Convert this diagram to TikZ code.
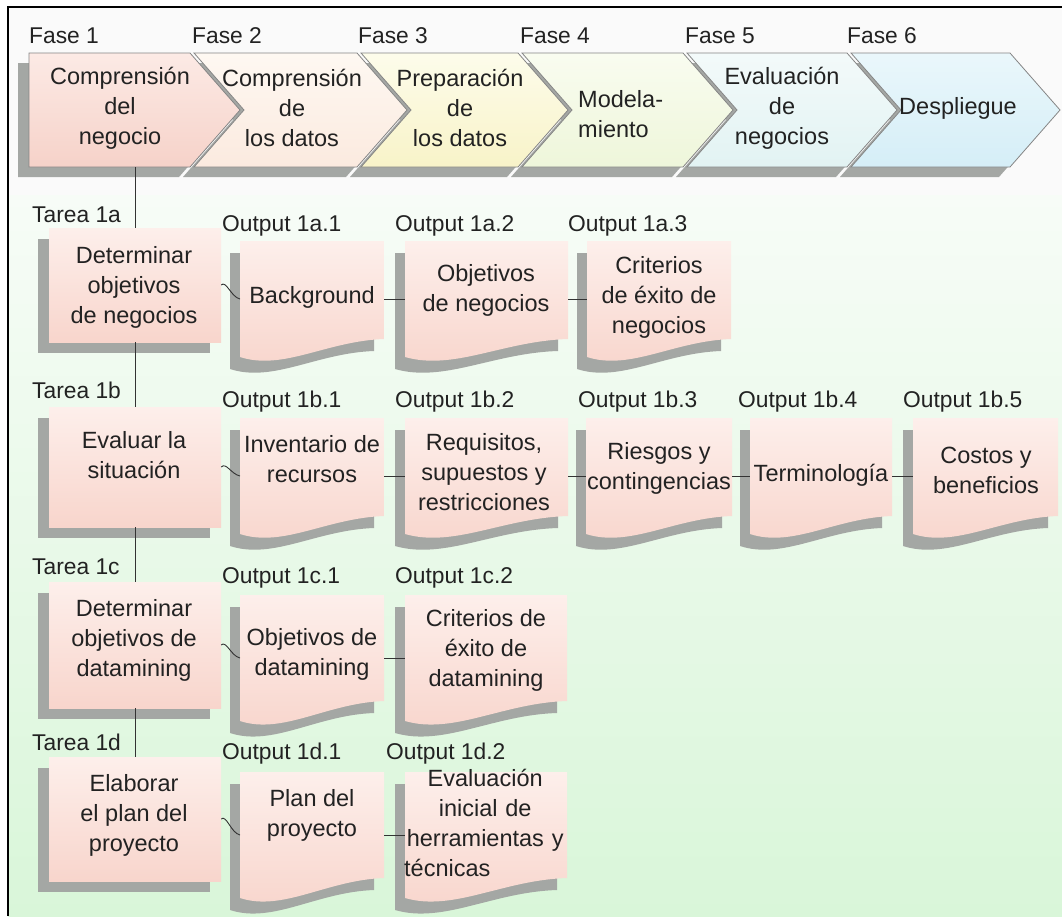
\documentclass[tikz,border=0pt]{standalone}
\usepackage{fontspec}
\setmainfont{Liberation Sans}
\usetikzlibrary{shadows}

\definecolor{ink}{HTML}{222222}
\definecolor{wirecol}{HTML}{333333}
\definecolor{shadowgray}{HTML}{A4A7A4}
\definecolor{edgegray}{HTML}{858585}
\definecolor{paper}{HTML}{FAFAFA}
\definecolor{greentop}{HTML}{F7FCF7}
\definecolor{greenbot}{HTML}{D9F6D9}
\definecolor{pinktop}{HTML}{FDEFEB}
\definecolor{pinkbot}{HTML}{F8D5CC}
% phase colours (top / bottom)
\definecolor{ca}{HTML}{FCEAE5}\definecolor{cA}{HTML}{F6D2C9}
\definecolor{cb}{HTML}{FEF8F2}\definecolor{cB}{HTML}{FBEADF}
\definecolor{cc}{HTML}{FDFCEB}\definecolor{cC}{HTML}{F8F3C8}
\definecolor{cd}{HTML}{F9FCF0}\definecolor{cD}{HTML}{EEF6DA}
\definecolor{ce}{HTML}{F3FAFA}\definecolor{cE}{HTML}{E2F3F3}
\definecolor{cf}{HTML}{EAF7FB}\definecolor{cF}{HTML}{D5EEF7}

\tikzset{
  lbl/.style={font=\fontsize{22.8}{28}\selectfont, text=ink, inner sep=0pt},
  bodyfont/.style={font=\fontsize{23.5}{30}\selectfont, text=ink, inner sep=0pt},
  body/.style={bodyfont, align=center},
  chev/.style={draw=edgegray, line width=0.8pt,
    general shadow={fill=shadowgray, shadow xshift=-11pt, shadow yshift=-10pt}},
  taskbox/.style={rectangle, inner sep=0pt, minimum width=172pt,
    top color=pinktop, bottom color=pinkbot,
    general shadow={fill=shadowgray, shadow xshift=-11pt, shadow yshift=-11pt}},
  docfill/.style={top color=pinktop, bottom color=pinkbot,
    general shadow={fill=shadowgray, shadow xshift=-10pt, shadow yshift=-12pt}},
  wire/.style={draw=wirecol, line width=0.9pt},
}

% output document: name, left x, top y, width, left height, right height
\newcommand{\outdoc}[6]{%
  \shade[docfill] (#2,#3) -- (#2+#4,#3) -- (#2+#4,#3+#6)
    .. controls +(-0.4*#4,2) and +(0.3*#4,14) .. (#2,#3+#5) -- cycle;
  \coordinate (#1-L) at (#2,#3+0.5*#5);
  \coordinate (#1-R) at (#2+#4,#3+0.5*#5);
}

\begin{document}
\begin{tikzpicture}[x=1pt,y=-1pt]
\useasboundingbox (0,0) rectangle (1062,916);

% page background and frame
\fill[white] (0,0) rectangle (1062,916);
\fill[paper] (8,7) rectangle (1062,195);
\shade[top color=greentop, bottom color=greenbot] (8,195) rectangle (1062,916);
\draw[black, line width=1.1pt] (8,916) -- (8,7) -- (1062,7);

% phase chevrons, drawn right to left so each tip lies over the next shadow
\path[chev, top color=cf, bottom color=cF] (851,53) -- (1010,53) -- (1060,110) -- (1010,167) -- (851,167) -- (901,110) -- cycle;
\path[chev, top color=ce, bottom color=cE] (687,53) -- (847,53) -- (897,110) -- (847,167) -- (687,167) -- (737,110) -- cycle;
\path[chev, top color=cd, bottom color=cD] (522,53) -- (683,53) -- (733,110) -- (683,167) -- (522,167) -- (572,110) -- cycle;
\path[chev, top color=cc, bottom color=cC] (361,53) -- (518,53) -- (568,110) -- (518,167) -- (361,167) -- (411,110) -- cycle;
\path[chev, top color=cb, bottom color=cB] (194,53) -- (357,53) -- (407,110) -- (357,167) -- (194,167) -- (244,110) -- cycle;
\path[chev, top color=ca, bottom color=cA] (29,53) -- (190,53) -- (240,110) -- (190,167) -- (29,167) -- cycle;

% phase labels
\node[lbl, anchor=base west] (f1) at (29,43) {Fase 1};
\node[lbl, anchor=base west] (f2) at (192,43) {Fase 2};
\node[lbl, anchor=base west] (f3) at (358,43) {Fase 3};
\node[lbl, anchor=base west] (f4) at (520,43) {Fase 4};
\node[lbl, anchor=base west] (f5) at (685,43) {Fase 5};
\node[lbl, anchor=base west] (f6) at (847,43) {Fase 6};

% phase names
\node[body] (ph1) at (120,108) {Comprensión\\del\\negocio};
\node[body] (ph2) at (292,108) {Comprensión\\de\\los datos};
\node[body] (ph3) at (460,108) {Preparación\\de\\los datos};
\node[bodyfont, align=left, anchor=west] (ph4) at (578,114) {Modela-\\miento};
\node[body] (ph5) at (782,108) {Evaluación\\de\\negocios};
\node[body] (ph6) at (958,108) {Despliegue};
\coordinate (spine) at (135,167);

% tasks
\node[lbl, anchor=base west] (ta) at (32,222) {Tarea 1a};
\node[lbl, anchor=base west] (tb) at (32,398) {Tarea 1b};
\node[lbl, anchor=base west] (tc) at (32,574) {Tarea 1c};
\node[lbl, anchor=base west] (td) at (32,750) {Tarea 1d};

\node[taskbox, minimum height=114pt] (t1a) at (135,285) {};
\node[taskbox, minimum height=120pt] (t1b) at (135,467) {};
\node[taskbox, minimum height=126pt] (t1c) at (135,645) {};
\node[taskbox, minimum height=124pt] (t1d) at (135,819) {};

\node[body] (t1a-text) at (134,287) {Determinar\\objetivos\\de negocios};
\node[body] (t1b-text) at (134,455) {Evaluar la\\situación};
\node[body] (t1c-text) at (134,640) {Determinar\\objetivos de\\datamining};
\node[body] (t1d-text) at (134,815) {Elaborar\\el plan del\\proyecto};

% outputs, row a
\node[lbl, anchor=base west] (la1) at (222,231) {Output 1a.1};
\node[lbl, anchor=base west] (la2) at (395,231) {Output 1a.2};
\node[lbl, anchor=base west] (la3) at (568,231) {Output 1a.3};
\outdoc{o1a1}{240}{241}{144}{116}{98}
\outdoc{o1a2}{405}{241}{163}{116}{98}
\outdoc{o1a3}{587}{241}{144}{116}{98}
\node[body] (o1a1-text) at (312,297) {Background};
\node[body] (o1a2-text) at (486,290) {Objetivos\\de negocios};
\node[body] (o1a3-text) at (659,297) {Criterios\\de éxito de\\negocios};

% outputs, row b
\node[lbl, anchor=base west] (lb1) at (222,407) {Output 1b.1};
\node[lbl, anchor=base west] (lb2) at (395,407) {Output 1b.2};
\node[lbl, anchor=base west] (lb3) at (578,407) {Output 1b.3};
\node[lbl, anchor=base west] (lb4) at (738,407) {Output 1b.4};
\node[lbl, anchor=base west] (lb5) at (903,407) {Output 1b.5};
\outdoc{o1b1}{240}{418}{144}{116}{98}
\outdoc{o1b2}{405}{418}{163}{116}{98}
\outdoc{o1b3}{586}{418}{146}{116}{98}
\outdoc{o1b4}{750}{418}{142}{116}{98}
\outdoc{o1b5}{913}{418}{145}{116}{98}
\node[body] (o1b1-text) at (312,459) {Inventario de\\recursos};
\node[body] (o1b2-text) at (484,472) {Requisitos,\\supuestos y\\restricciones};
\node[body] (o1b3-text) at (659,468) {Riesgos y\\contingencias};
\node[body] (o1b4-text) at (821,475) {Terminología};
\node[body] (o1b5-text) at (986,470) {Costos y\\beneficios};

% outputs, row c
\node[lbl, anchor=base west] (lc1) at (222,583) {Output 1c.1};
\node[lbl, anchor=base west] (lc2) at (395,583) {Output 1c.2};
\outdoc{o1c1}{240}{595}{144}{126}{106}
\outdoc{o1c2}{405}{595}{162}{126}{106}
\node[body] (o1c1-text) at (312,654) {Objetivos de\\datamining};
\node[body] (o1c2-text) at (486,650) {Criterios de\\éxito de\\datamining};

% outputs, row d
\node[lbl, anchor=base west] (ld1) at (222,759) {Output 1d.1};
\node[lbl, anchor=base west] (ld2) at (386,759) {Output 1d.2};
\outdoc{o1d1}{240}{772}{144}{126}{106}
\outdoc{o1d2}{405}{772}{162}{126}{106}
\node[body] (o1d1-text) at (312,815) {Plan del\\proyecto};
\node[bodyfont, text width=162pt, anchor=west] (o1d2-text) at (404,823)
  {{\centering Evaluación\\inicial de\\herramientas y\par}\noindent técnicas};

% task spine
\draw[wire] (spine) -- (t1a.north);
\draw[wire] (t1a.south) -- (t1b.north);
\draw[wire] (t1b.south) -- (t1c.north);
\draw[wire] (t1c.south) -- (t1d.north);

% task to first output
\draw[wire] (t1a.east) .. controls +(5,-5) and +(-9,-2) .. (o1a1-L);
\draw[wire] (t1b.east) .. controls +(5,-5) and +(-9,-2) .. (o1b1-L);
\draw[wire] (t1c.east) .. controls +(5,-5) and +(-9,-2) .. (o1c1-L);
\draw[wire] (t1d.east) .. controls +(5,-5) and +(-9,-2) .. (o1d1-L);

% output chains
\draw[wire] (o1a1-R) -- (o1a2-L);
\draw[wire] (o1a2-R) -- (o1a3-L);
\draw[wire] (o1b1-R) -- (o1b2-L);
\draw[wire] (o1b2-R) -- (o1b3-L);
\draw[wire] (o1b3-R) -- (o1b4-L);
\draw[wire] (o1b4-R) -- (o1b5-L);
\draw[wire] (o1c1-R) -- (o1c2-L);
\draw[wire] (o1d1-R) -- (o1d2-L);
\end{tikzpicture}
\end{document}
